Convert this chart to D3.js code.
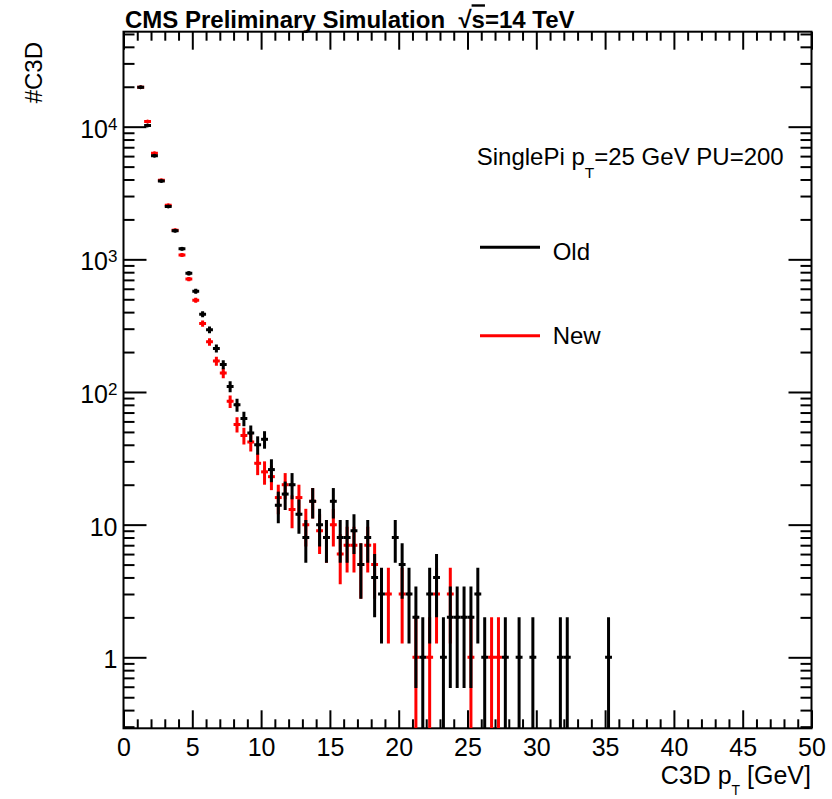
<!DOCTYPE html>
<html><head><meta charset="utf-8">
<script src="https://cdnjs.cloudflare.com/ajax/libs/d3/7.8.5/d3.min.js"></script>
<style>
body{margin:0;background:#fff;}
svg{display:block;}
text{font-family:"Liberation Sans",Arial,Helvetica,sans-serif;fill:#000;}
</style>
</head><body>
<svg id="chart" width="832" height="799"></svg>
<script>
// ---------------- data (bin centres in GeV, bin width 0.5 GeV) ----------------
const binWidth = 0.5;
const oldPt = [1.25,1.75,2.25,2.75,3.25,3.75,4.25,4.75,5.25,5.75,6.25,6.75,7.25,7.75,8.25,8.75,9.25,9.75,
  10.25,10.75,11.25,11.75,12.25,12.75,13.25,13.75,14.25,14.75,15.25,15.75,16.25,16.75,17.25,17.75,18.25,18.75,
  19.75,20.25,20.75,21.25,21.75,22.25,22.75,23.25,23.75,24.25,24.75,25.25,25.75,26.25,27.75,28.75,29.75,31.75,32.25,35.25];
const oldCounts = [19800,10200,6050,3900,2500,1640,1200,785,575,386,294,213,161,110,80,63,49,40,
  44,26,14,17,20,12,8,15,10,8,15,8,8,9,5,8,4,3,
  8,5,3,2,1,3,4,1,2,2,2,2,3,1,1,1,1,1,1,1];
const newPt = [1.25,1.75,2.25,2.75,3.25,3.75,4.25,4.75,5.25,5.75,6.25,6.75,7.25,7.75,8.25,8.75,9.25,9.75,
  10.25,10.75,11.25,11.75,12.25,12.75,13.25,13.75,14.25,14.75,15.25,15.75,16.25,16.75,17.25,17.75,18.25,
  19.25,20.25,21.25,22.25,22.75,23.75,25.25,26.75,27.25];
const newCounts = [19800,10950,6300,3950,2560,1660,1080,710,492,328,239,171,139,85,57,47,42,29,
  25,23,16,20,13,16,10,15,9,8,10,6,7,7,5,7,5,
  3,3,1,1,3,3,1,1,1];

const xTicks = [0,5,10,15,20,25,30,35,40,45,50];
const yTicks = [1,10,100,1000,10000];
const yTickBase = ["1","10","10","10","10"];
const yTickExp  = ["","","2","3","4"];

const series = [
  {name:"New", color:"#ff0000", pt:newPt, counts:newCounts},
  {name:"Old", color:"#000000", pt:oldPt, counts:oldCounts}
];

// ---------------- layout ----------------
const L = 123.5, R = 811.5, T = 31.7, B = 728.3;
const svg = d3.select("#chart");
const x = d3.scaleLinear().domain([0,50]).range([L,R]);
const y = d3.scaleLog().domain([0.2916, 52000]).range([B,T]);

svg.append("defs").append("clipPath").attr("id","frameclip")
  .append("rect").attr("x",L).attr("y",T).attr("width",R-L).attr("height",B-T);

// ---------------- axes ----------------
function styleAxis(g){
  g.select(".domain").remove();
  g.selectAll(".tick line").attr("stroke","#000").attr("stroke-width",2);
}
const xMinor = x.ticks(50).filter(v=>xTicks.indexOf(v)<0);
// bottom
svg.append("g").attr("transform",`translate(0,${B})`)
  .call(d3.axisBottom(x).tickValues(xMinor).tickSize(-9).tickFormat(""))
  .call(styleAxis);
const xAx = svg.append("g").attr("transform",`translate(0,${B})`)
  .call(d3.axisBottom(x).tickValues(xTicks).tickSize(-18).tickPadding(10).tickFormat(d3.format("d")))
  .call(styleAxis);
xAx.selectAll("text").attr("font-size",25).attr("font-family",null);
// top
svg.append("g").attr("transform",`translate(0,${T})`)
  .call(d3.axisTop(x).tickValues(xMinor).tickSize(-9).tickFormat(""))
  .call(styleAxis);
svg.append("g").attr("transform",`translate(0,${T})`)
  .call(d3.axisTop(x).tickValues(xTicks).tickSize(-18).tickFormat(""))
  .call(styleAxis);

const yMinor = y.ticks().filter(v=>yTicks.indexOf(v)<0);
// left
svg.append("g").attr("transform",`translate(${L},0)`)
  .call(d3.axisLeft(y).tickValues(yMinor).tickSize(-11).tickFormat(""))
  .call(styleAxis);
const yAx = svg.append("g").attr("transform",`translate(${L},0)`)
  .call(d3.axisLeft(y).tickValues(yTicks).tickSize(-23).tickPadding(6).tickFormat(""))
  .call(styleAxis);
yAx.selectAll(".tick text").each(function(d,i){
  const t = d3.select(this).attr("font-size",25).attr("font-family",null).attr("dy","0.42em");
  const idx = yTicks.indexOf(d);
  t.append("tspan").text(yTickBase[idx]);
  if (yTickExp[idx]) t.append("tspan").attr("font-size",17).attr("dy",-8).text(yTickExp[idx]);
});
// right
svg.append("g").attr("transform",`translate(${R},0)`)
  .call(d3.axisRight(y).tickValues(yMinor).tickSize(-11).tickFormat(""))
  .call(styleAxis);
svg.append("g").attr("transform",`translate(${R},0)`)
  .call(d3.axisRight(y).tickValues(yTicks).tickSize(-23).tickFormat(""))
  .call(styleAxis);

// frame
svg.append("rect").attr("x",L).attr("y",T).attr("width",R-L).attr("height",B-T)
  .attr("fill","none").attr("stroke","#000").attr("stroke-width",2);

// ---------------- data marks ----------------
const plot = svg.append("g").attr("clip-path","url(#frameclip)");
const ymin = y.domain()[0];
series.forEach(s=>{
  const pts = s.pt.map((p,i)=>({p, n:s.counts[i]}));
  const g = plot.append("g");
  g.selectAll("line.v").data(pts).join("line").attr("class","v")
    .attr("x1",d=>x(d.p)).attr("x2",d=>x(d.p))
    .attr("y1",d=>y(Math.max(d.n-Math.sqrt(d.n), ymin)))
    .attr("y2",d=>y(d.n+Math.sqrt(d.n)))
    .attr("stroke",s.color).attr("stroke-width",3);
  g.selectAll("line.h").data(pts).join("line").attr("class","h")
    .attr("x1",d=>x(d.p-binWidth/2)).attr("x2",d=>x(d.p+binWidth/2))
    .attr("y1",d=>y(d.n)).attr("y2",d=>y(d.n))
    .attr("stroke",s.color).attr("stroke-width",3);
  g.selectAll("circle").data(pts).join("circle")
    .attr("cx",d=>x(d.p)).attr("cy",d=>y(d.n)).attr("r",2)
    .attr("fill",s.color);
});

// ---------------- texts ----------------
const title = svg.append("text").attr("x",125).attr("y",28.3)
  .attr("font-size",24).attr("font-weight","bold");
title.append("tspan").text("CMS Preliminary Simulation\u00a0\u00a0\u221A");
title.append("tspan").style("text-decoration","overline").text("s");
title.append("tspan").text("=14 TeV");

svg.append("text").attr("transform","translate(42,42) rotate(-90)")
  .attr("text-anchor","end").attr("font-size",24).text("#C3D");

const xt = svg.append("text").attr("x",811).attr("y",784).attr("text-anchor","end").attr("font-size",25);
xt.append("tspan").text("C3D p");
xt.append("tspan").attr("font-size",14).attr("dy",11).text("T");
xt.append("tspan").attr("dy",-11).text(" [GeV]");

const lh = svg.append("text").attr("x",476.7).attr("y",165).attr("font-size",24);
lh.append("tspan").text("SinglePi p");
lh.append("tspan").attr("font-size",15.5).attr("dy",13).text("T");
lh.append("tspan").attr("dy",-13).text("=25 GeV PU=200");

const legendItems = [{name:"Old",color:"#000000",ly:247.3,ty:259.5},{name:"New",color:"#ff0000",ly:335.7,ty:344}];
legendItems.forEach(it=>{
  svg.append("line").attr("x1",480).attr("x2",540).attr("y1",it.ly).attr("y2",it.ly)
    .attr("stroke",it.color).attr("stroke-width",3);
  svg.append("text").attr("x",552.7).attr("y",it.ty).attr("font-size",24).text(it.name);
});
</script>
</body></html>
